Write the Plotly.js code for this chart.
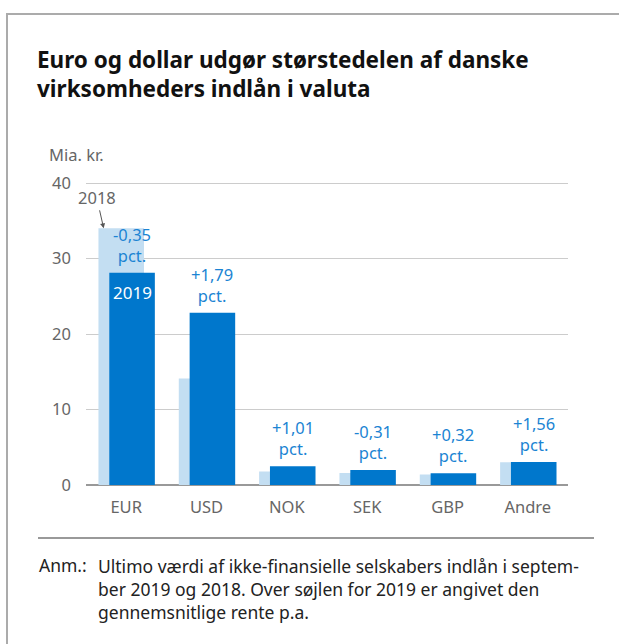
<!DOCTYPE html>
<html>
<head>
<meta charset="utf-8">
<script src="https://cdn.plot.ly/plotly-3.0.1.min.js"></script>
<style>
html,body{margin:0;padding:0;background:#fff;}
#chart{width:619px;height:644px;}
</style>
</head>
<body>
<div id="chart"></div>
<script>
// ---- data ----
const categories = ["EUR", "USD", "NOK", "SEK", "GBP", "Andre"];
const values2018 = [34.0, 14.1, 1.8, 1.6, 1.4, 3.0];
const values2019 = [28.1, 22.8, 2.5, 2.0, 1.55, 3.05];
const rates2019 = ["-0,35", "+1,79", "+1,01", "-0,31", "+0,32", "+1,56"];
const yTicks = [0, 10, 20, 30, 40];

const FONT = "Noto Sans, Open Sans, sans-serif";
const GRAY = "#666666";
const BLUE_TXT = "#1b84d3";
const W = 619, H = 644;
const L = 86, R = 568, T = 180, B = 485;
const YMAX = 40.4;

const barW = 0.567;
const off2018 = -0.345, off2019 = -0.21;

const xIdx = categories.map((c, i) => i);

const trace2018 = {
  type: "bar", x: xIdx, y: values2018, name: "2018",
  width: barW, offset: off2018,
  marker: {color: "#c3def2", line: {width: 0}},
  hoverinfo: "skip"
};
const trace2019 = {
  type: "bar", x: xIdx, y: values2019, name: "2019",
  width: barW, offset: off2019,
  marker: {color: "#0077cc", line: {width: 0}},
  hoverinfo: "skip"
};

const px2paperX = px => (px - L) / (R - L);
const px2paperY = py => (B - py) / (B - T);

const annotations = [];
// rate labels above 2019 bars
categories.forEach((c, i) => {
  annotations.push({
    x: i + off2019 + barW / 2, y: values2019[i], xref: "x", yref: "y",
    text: rates2019[i] + "<br>pct.", showarrow: false,
    xanchor: "center", yanchor: "bottom", yshift: 4,
    font: {family: FONT, size: 16.5, color: BLUE_TXT}, align: "center"
  });
});
// "2019" inside bar
annotations.push({
  x: 0 + off2019 + barW / 2, y: values2019[0], xref: "x", yref: "y",
  text: "2019", showarrow: false, xanchor: "center", yanchor: "middle", yshift: -20,
  font: {family: FONT, size: 17, color: "#ffffff"}
});
// "2018" with arrow
annotations.push({
  x: 0 + off2018 + 0.065, y: values2018[0], xref: "x", yref: "y",
  text: "2018", showarrow: true, ax: -7, ay: -31,
  arrowhead: 2, arrowsize: 1, arrowwidth: 1, arrowcolor: "#555555",
  font: {family: FONT, size: 16.5, color: GRAY}
});
// unit label
annotations.push({
  x: px2paperX(47), y: px2paperY(155), xref: "paper", yref: "paper",
  text: "Mia. kr.", showarrow: false, xanchor: "left", yanchor: "middle",
  font: {family: FONT, size: 16.5, color: GRAY}
});
// note
annotations.push({
  x: px2paperX(37), y: px2paperY(565), xref: "paper", yref: "paper",
  text: "Anm.:", showarrow: false, xanchor: "left", yanchor: "middle",
  font: {family: FONT, size: 17.5, color: "#222222"}
});
annotations.push({
  x: px2paperX(96), y: px2paperY(552), xref: "paper", yref: "paper",
  text: "Ultimo værdi af ikke-finansielle selskabers indlån i septem-<br>ber 2019 og 2018. Over søjlen for 2019 er angivet den<br>gennemsnitlige rente p.a.",
  showarrow: false, xanchor: "left", yanchor: "top", align: "left",
  font: {family: FONT, size: 17.5, color: "#222222"}
});

const shapes = [
  {type: "line", xref: "paper", yref: "paper", x0: px2paperX(6), x1: px2paperX(640), y0: px2paperY(14), y1: px2paperY(14), line: {color: "#ababab", width: 2}},
  {type: "line", xref: "paper", yref: "paper", x0: px2paperX(7), x1: px2paperX(7), y0: px2paperY(13), y1: px2paperY(660), line: {color: "#ababab", width: 2}},
  {type: "line", xref: "paper", yref: "paper", x0: px2paperX(38), x1: px2paperX(594), y0: px2paperY(538), y1: px2paperY(538), line: {color: "#999999", width: 2}}
];

const layout = {
  width: W, height: H,
  margin: {l: L, r: W - R, t: T, b: H - B, pad: 0},
  paper_bgcolor: "#ffffff", plot_bgcolor: "#ffffff",
  showlegend: false,
  barmode: "overlay",
  title: {
    text: "<b>Euro og dollar udgør størstedelen af danske<br>virksomheders indlån i valuta</b>",
    x: 37 / W, xref: "container", xanchor: "left",
    y: 1 - 68 / H, yref: "container", yanchor: "top",
    font: {family: FONT, size: 22.5, color: "#111111"}
  },
  xaxis: {
    range: [-0.5, categories.length - 0.5],
    tickmode: "array", tickvals: xIdx, ticktext: categories,
    showgrid: false, zeroline: false, showline: false, ticks: "",
    tickfont: {family: FONT, size: 16.5, color: GRAY},
    ticklabelstandoff: 10, fixedrange: true
  },
  yaxis: {
    range: [0, YMAX], tickmode: "array", tickvals: yTicks,
    showgrid: true, gridcolor: "#cccccc", gridwidth: 1,
    zeroline: true, zerolinecolor: "#999999", zerolinewidth: 2,
    showline: false, ticks: "",
    tickfont: {family: FONT, size: 16.5, color: GRAY},
    ticklabelstandoff: 14, fixedrange: true
  },
  annotations: annotations,
  shapes: shapes
};

Plotly.newPlot("chart", [trace2018, trace2019], layout, {displayModeBar: false, staticPlot: true});
</script>
</body>
</html>
